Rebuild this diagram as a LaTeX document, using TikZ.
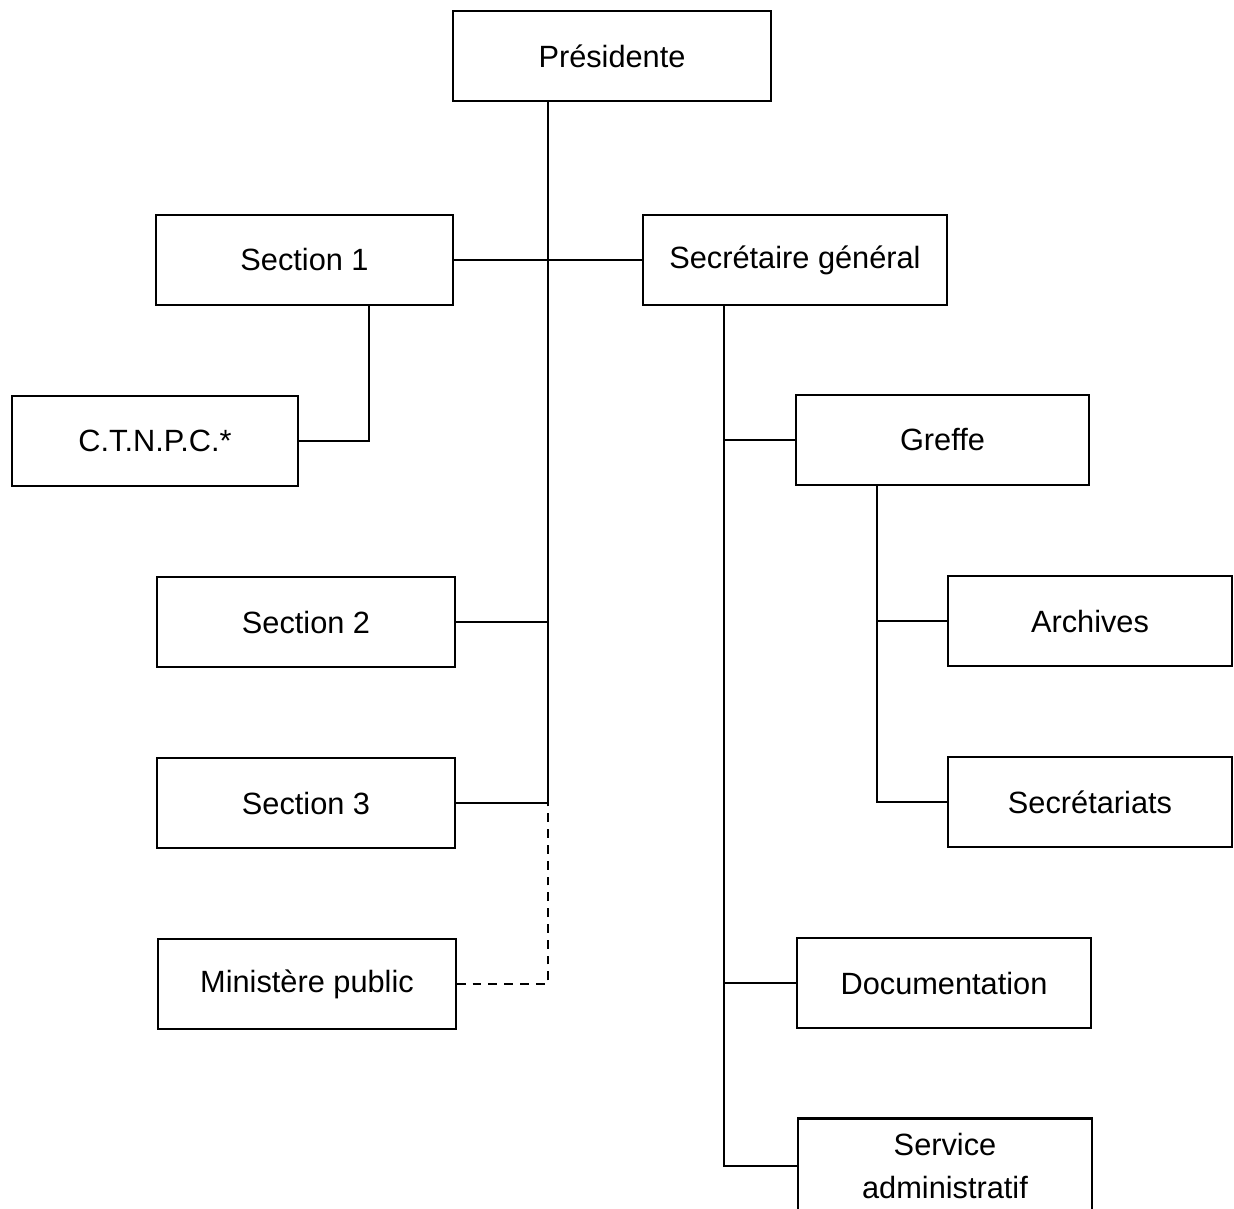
\documentclass[tikz,border=0pt]{standalone}
\usepackage{fontspec}
\setmainfont{Liberation Sans}
\usepackage{tikz}
\usetikzlibrary{calc,positioning}

\begin{document}
\begin{tikzpicture}[x=0.02cm,y=-0.02cm]

\tikzset{orgbox/.style={draw=black,line width=1.3pt,font=\fontsize{17.5}{24}\selectfont,minimum height=1.8cm,minimum width=5.95cm,inner sep=2pt,align=center},
link/.style={line width=1.3pt},
dashlink/.style={line width=1.3pt,dash pattern=on 5pt off 4pt}}

\clip (0,0) rectangle (1234,1208);
\useasboundingbox (0,0) rectangle (1234,1208);

% Boxes
\node[orgbox,minimum width=6.36cm] (pres) at (612,56) {Présidente};
\node[orgbox] (sec1) at (304.5,260) {Section 1};
\node[orgbox,minimum width=6.08cm] (sg) at (795,260) {Secrétaire général};
\node[orgbox,minimum width=5.72cm] (ctnpc) at (155,441) {C.T.N.P.C.*};
\node[orgbox,minimum width=5.86cm] (greffe) at (942.5,440) {Greffe};
\node[orgbox] (sec2) at (306,622) {Section 2};
\node[orgbox,minimum width=5.68cm] (archives) at (1090,621) {Archives};
\node[orgbox] (sec3) at (306,803) {Section 3};
\node[orgbox,minimum width=5.68cm] (secretariats) at (1090,802) {Secrétariats};
\node[orgbox] (minist) at (307,984) {Ministère public};
\node[orgbox,minimum width=5.88cm] (doc) at (944,983) {Documentation};
\node[orgbox,minimum width=5.88cm,minimum height=1.9cm] (serv) at (945,1166) {Service\\administratif};

% spines
\coordinate (spine) at (548,0);
\coordinate (ctspine) at (369,0);
\coordinate (sgspine) at (724,0);
\coordinate (grspine) at (877,0);

% Edges
\draw[link] (sec1.east) -- (sg.west);
\draw[link] (pres.south -| spine) -- (sec3.east -| spine) -- (sec3.east);
\draw[link] (sec2.east) -- (sec2.east -| spine);
\draw[dashlink] (minist.east) -| (sec3.east -| spine);
\draw[link] (sec1.south -| ctspine) |- (ctnpc.east);
\draw[link] (sg.south -| sgspine) |- (serv.west);
\draw[link] (greffe.west) -- (greffe.west -| sgspine);
\draw[link] (doc.west) -- (doc.west -| sgspine);
\draw[link] (greffe.south -| grspine) |- (secretariats.west);
\draw[link] (archives.west) -- (archives.west -| grspine);

\end{tikzpicture}
\end{document}
